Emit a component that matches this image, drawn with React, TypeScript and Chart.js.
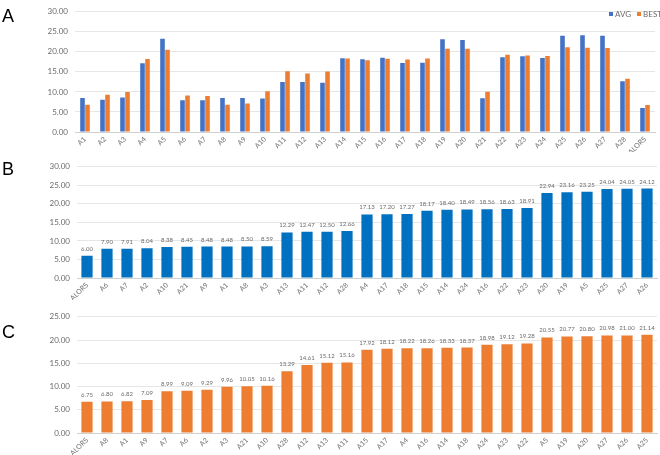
import React, { useEffect, useRef } from "react";
import { Chart, registerables } from "chart.js";

Chart.register(...registerables);

const catA = ["A1","A2","A3","A4","A5","A6","A7","A8","A9","A10","A11","A12","A13","A14","A15","A16","A17","A18","A19","A20","A21","A22","A23","A24","A25","A26","A27","A28","ALORS"];
const avgA = [8.48,8.04,8.59,17.13,23.25,7.90,7.91,8.50,8.48,8.38,12.47,12.50,12.29,18.40,18.17,18.56,17.20,17.27,23.16,22.94,8.45,18.63,18.91,18.49,24.04,24.12,24.05,12.66,6.00];
const bestA = [6.82,9.29,9.96,18.22,20.55,9.09,8.99,6.80,7.09,10.16,15.16,14.61,15.12,18.33,17.92,18.26,18.12,18.37,20.77,20.80,10.05,19.28,19.12,18.98,21.14,21.00,20.98,13.29,6.75];

const catB = ["ALORS","A6","A7","A2","A10","A21","A9","A1","A8","A3","A13","A11","A12","A28","A4","A17","A18","A15","A14","A24","A16","A22","A23","A20","A19","A5","A25","A27","A26"];
const valB = [6.00,7.90,7.91,8.04,8.38,8.45,8.48,8.48,8.50,8.59,12.29,12.47,12.50,12.66,17.13,17.20,17.27,18.17,18.40,18.49,18.56,18.63,18.91,22.94,23.16,23.25,24.04,24.05,24.12];

const catC = ["ALORS","A8","A1","A9","A7","A6","A2","A3","A21","A10","A28","A12","A13","A11","A15","A17","A4","A16","A14","A18","A24","A23","A22","A5","A19","A20","A27","A26","A25"];
const valC = [6.75,6.80,6.82,7.09,8.99,9.09,9.29,9.96,10.05,10.16,13.29,14.61,15.12,15.16,17.92,18.12,18.22,18.26,18.33,18.37,18.98,19.12,19.28,20.55,20.77,20.80,20.98,21.00,21.14];

const FONT = "Lato, 'Open Sans', sans-serif";
const TXT = "#6b6b6b";

const valueLabels = {
  id: "valueLabels",
  afterDatasetsDraw(chart: any) {
    const opts = chart.options.plugins.valueLabels;
    if (!opts || !opts.show) return;
    const ctx = chart.ctx;
    ctx.save();
    ctx.font = `6px ${FONT}`;
    ctx.fillStyle = TXT;
    ctx.textAlign = "center";
    ctx.textBaseline = "bottom";
    chart.data.datasets.forEach((ds: any, di: number) => {
      const meta = chart.getDatasetMeta(di);
      meta.data.forEach((el: any, i: number) => {
        ctx.fillText(Number(ds.data[i]).toFixed(2), el.x, el.y - 4);
      });
    });
    ctx.restore();
  },
};

function makeOptions(max: number, yWidth: number, xHeight: number, padTop: number, padRight: number, showLabels: boolean) {
  return {
    responsive: false,
    animation: false,
    layout: { padding: { top: padTop, right: padRight, left: 0, bottom: 0 } },
    plugins: {
      legend: { display: false },
      tooltip: { enabled: false },
      valueLabels: { show: showLabels },
    },
    scales: {
      x: {
        grid: { display: false, drawTicks: false },
        border: { display: true, color: "#d0d0d0" },
        ticks: {
          color: TXT,
          font: { family: FONT, size: 7 },
          minRotation: 45,
          maxRotation: 45,
          autoSkip: false,
          padding: 3,
        },
        afterFit: (s: any) => { s.height = xHeight; },
      },
      y: {
        min: 0,
        max,
        grid: { color: "#e6e6e6", drawTicks: false },
        border: { display: false },
        ticks: {
          stepSize: 5,
          color: TXT,
          font: { family: FONT, size: 8 },
          padding: 7,
          callback: (v: any) => Number(v).toFixed(2),
        },
        afterFit: (s: any) => { s.width = yWidth; },
      },
    },
  };
}

function Panel({ data, options, style }: any) {
  const ref = useRef<HTMLCanvasElement>(null);
  useEffect(() => {
    const chart = new Chart(ref.current as HTMLCanvasElement, {
      type: "bar",
      data,
      options,
      plugins: [valueLabels],
    } as any);
    return () => chart.destroy();
  }, []);
  return (
    <canvas
      ref={ref}
      width={style.width}
      height={style.height}
      style={{ position: "absolute", left: style.left, top: style.top, width: style.width, height: style.height }}
    />
  );
}

const letterStyle = (top: number): React.CSSProperties => ({
  position: "absolute",
  left: 2,
  top,
  fontFamily: "'Liberation Sans', Arial, sans-serif",
  fontSize: 18,
  lineHeight: "18px",
  color: "#000",
});

export default function App() {
  const dataA = {
    labels: catA,
    datasets: [
      { label: "AVG", data: avgA, backgroundColor: "#4472C4", categoryPercentage: 0.5, barPercentage: 0.92 },
      { label: "BEST", data: bestA, backgroundColor: "#ED7D31", categoryPercentage: 0.5, barPercentage: 0.92 },
    ],
  };
  const dataB = {
    labels: catB,
    datasets: [{ label: "AVG", data: valB, backgroundColor: "#0070C0", categoryPercentage: 0.56, barPercentage: 1 }],
  };
  const dataC = {
    labels: catC,
    datasets: [{ label: "BEST", data: valC, backgroundColor: "#ED7D31", categoryPercentage: 0.56, barPercentage: 1 }],
  };
  return (
    <div style={{ position: "fixed", left: 0, top: 0, width: 660, height: 455, background: "#fff", overflow: "hidden" }}>
      <Panel data={dataA} options={makeOptions(30, 75, 20, 0, 5, false)} style={{ left: 0, top: 0, width: 660, height: 152 }} />
      <Panel data={dataB} options={makeOptions(30, 77, 22, 5, 3, true)} style={{ left: 0, top: 155, width: 660, height: 145 }} />
      <Panel data={dataC} options={makeOptions(25, 77, 22, 10, 3, true)} style={{ left: 0, top: 305, width: 660, height: 150 }} />
      <div style={letterStyle(7)}>A</div>
      <div style={letterStyle(160)}>B</div>
      <div style={letterStyle(323)}>C</div>
      <div style={{ position: "absolute", left: 609, top: 9, fontFamily: FONT, fontSize: 8, color: TXT, display: "flex", alignItems: "center", whiteSpace: "nowrap" }}>
        <span style={{ display: "inline-block", width: 4, height: 4, background: "#4472C4", marginRight: 2 }} />
        <span style={{ marginRight: 6 }}>AVG</span>
        <span style={{ display: "inline-block", width: 4, height: 4, background: "#ED7D31", marginRight: 2 }} />
        <span>BEST</span>
      </div>
    </div>
  );
}
